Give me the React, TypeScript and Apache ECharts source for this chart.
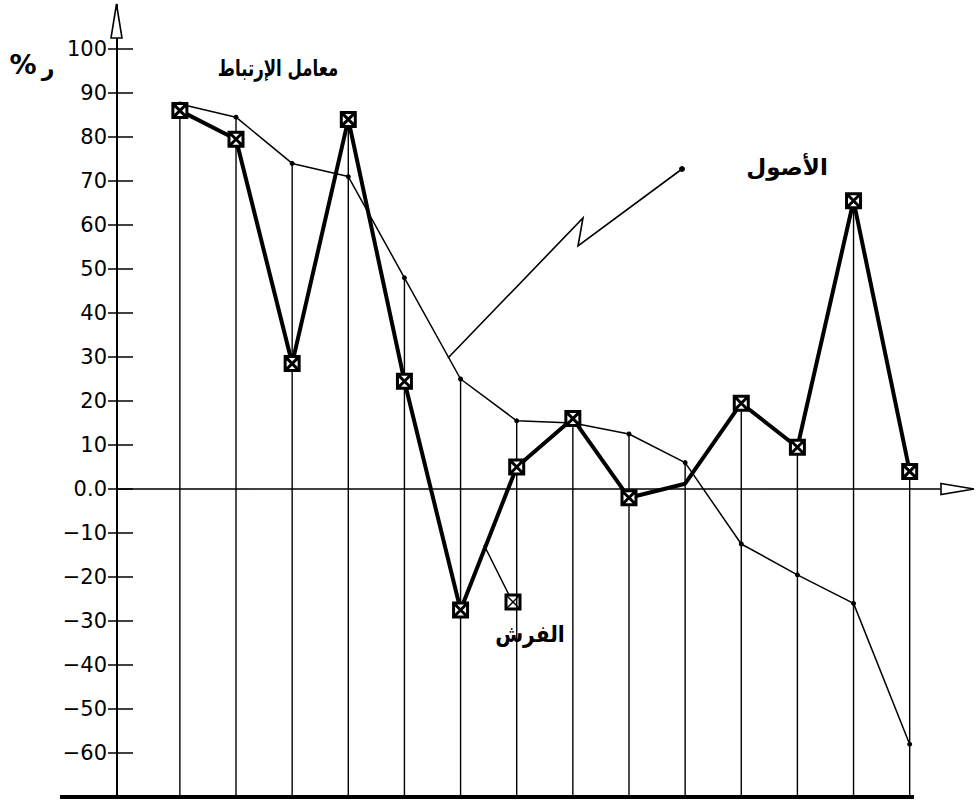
import React, { useEffect, useRef } from 'react';
import * as echarts from 'echarts';

// Category positions (14 observations, no labels shown on the x axis)
const categoryIndex = [1, 2, 3, 4, 5, 6, 7, 8, 9, 10, 11, 12, 13, 14];
// الأصول (assets) – thin line with dots
const assets = [87.5, 84.5, 74, 71, 48, 25, 15.5, 15, 12.5, 6, -12.5, -19.5, -26, -58];
// الفرش (furnishings) – thick line with boxed-cross markers
const furnishings = [86, 79.5, 28.5, 84, 24.5, -27.5, 5, 16, -2, 1.2, 19.5, 9.5, 65.5, 4];
const furnishingsMarked = [true, true, true, true, true, true, true, true, true, false, true, true, true, true];
// Y axis ticks and their labels
const yTicks = [-60, -50, -40, -30, -20, -10, 0, 10, 20, 30, 40, 50, 60, 70, 80, 90, 100];
const yTickLabels = ['−60', '−50', '−40', '−30', '−20', '−10', '0.0', '10', '20', '30', '40', '50', '60', '70', '80', '90', '100'];
const titleText = 'معامل الإرتباط';
const unitPercent = '%';
const unitLetter = 'ر';
const assetsLabel = 'الأصول';
const furnishingsLabel = 'الفرش';

const Y_MIN = -70;
const Y_MAX = 110;

export default function App() {
  const ref = useRef<HTMLDivElement>(null);

  useEffect(() => {
    const chart = echarts.init(ref.current as HTMLDivElement, null, { renderer: 'svg' });
    const markerPath = 'path://M0 0H10V10H0Z M0 0L10 10 M10 0L0 10';
    const dropData = categoryIndex.map((c, i) => [c, Math.max(assets[i], furnishings[i])]);
    const labelFont = { fontFamily: 'DejaVu Sans', color: '#000' };
    const arabicText = (text: string, x: number, y: number, size: number, sx: number) => ({
      type: 'text',
      z: 10,
      x,
      y,
      scaleX: sx,
      style: {
        text,
        fontFamily: 'DejaVu Sans',
        fontWeight: 'bold',
        fontSize: size,
        fill: '#000',
        textAlign: 'center',
        textVerticalAlign: 'middle',
      },
    });

    chart.setOption({
      animation: false,
      backgroundColor: '#fff',
      grid: { left: 117, right: 38, top: 5, bottom: 5, containLabel: false },
      xAxis: {
        type: 'value',
        min: -0.12,
        max: 14.54,
        axisLine: { show: true, onZero: true, lineStyle: { color: '#000', width: 1.5 } },
        axisTick: { show: false },
        axisLabel: { show: false },
        splitLine: { show: false },
      },
      yAxis: [
        {
          type: 'value',
          min: Y_MIN,
          max: Y_MAX,
          interval: 10,
          position: 'left',
          axisLine: { show: true, onZero: false, lineStyle: { color: '#000', width: 2 } },
          axisTick: { show: true, inside: true, length: 16, customValues: yTicks, lineStyle: { color: '#000', width: 1.5 } },
          axisLabel: {
            show: true,
            customValues: yTicks,
            margin: 10,
            fontSize: 21,
            ...labelFont,
            formatter: (v: number) => {
              const idx = yTicks.indexOf(v);
              return idx >= 0 ? yTickLabels[idx] : '';
            },
          },
          splitLine: { show: false },
        },
        {
          type: 'value',
          min: Y_MIN,
          max: Y_MAX,
          interval: 10,
          position: 'left',
          offset: 0,
          axisLine: { show: false, onZero: false },
          axisTick: { show: true, inside: false, length: 9, customValues: yTicks, lineStyle: { color: '#000', width: 1.5 } },
          axisLabel: { show: false },
          splitLine: { show: false },
        },
      ],
      series: [
        {
          type: 'custom',
          name: 'drop',
          silent: true,
          z: 1,
          data: dropData,
          renderItem: (params: any, api: any) => {
            const x = api.value(0);
            const top = api.value(1);
            const p1 = api.coord([x, Y_MIN]);
            const p2 = api.coord([x, top]);
            return {
              type: 'line',
              shape: { x1: p1[0], y1: p1[1], x2: p2[0], y2: p2[1] },
              style: { stroke: '#000', lineWidth: 1.4 },
            };
          },
        },
        {
          type: 'line',
          name: assetsLabel,
          z: 2,
          data: categoryIndex.map((c, i) => [c, assets[i]]),
          symbol: 'circle',
          symbolSize: 5,
          itemStyle: { color: '#000' },
          lineStyle: { color: '#000', width: 1.5 },
        },
        {
          type: 'line',
          name: furnishingsLabel,
          z: 3,
          data: categoryIndex.map((c, i) => ({
            value: [c, furnishings[i]],
            symbol: furnishingsMarked[i] ? markerPath : 'none',
          })),
          symbolSize: 14,
          itemStyle: { color: '#fff', borderColor: '#000', borderWidth: 3 },
          lineStyle: { color: '#000', width: 4 },
        },
      ],
      graphic: [
        // y axis hollow arrow
        {
          type: 'polygon',
          z: 10,
          shape: { points: [[111, 38], [116.5, 4], [122, 38]] },
          style: { fill: '#fff', stroke: '#000', lineWidth: 1.6 },
        },
        // x axis hollow arrow
        {
          type: 'polygon',
          z: 10,
          shape: { points: [[941, 483.5], [974, 489], [941, 494.5]] },
          style: { fill: '#fff', stroke: '#000', lineWidth: 1.6 },
        },
        // thick baseline
        {
          type: 'line',
          z: 10,
          shape: { x1: 60, y1: 797, x2: 914, y2: 797 },
          style: { stroke: '#000', lineWidth: 4 },
        },
        // title
        arabicText(titleText, 278, 68, 23, 0.72),
        // unit label  % ر
        {
          type: 'text',
          z: 10,
          x: 23,
          y: 64,
          style: {
            text: unitPercent,
            fontFamily: 'DejaVu Sans',
            fontWeight: 'bold',
            fontSize: 27,
            fill: '#000',
            textAlign: 'center',
            textVerticalAlign: 'middle',
          },
        },
        arabicText(unitLetter, 48, 68, 22, 1),
        // assets annotation
        arabicText(assetsLabel, 787, 167, 23, 1),
        {
          type: 'polyline',
          z: 10,
          shape: { points: [[448, 358], [583, 218], [578, 246], [682, 169]] },
          style: { stroke: '#000', lineWidth: 1.6, fill: 'none' },
        },
        {
          type: 'circle',
          z: 10,
          shape: { cx: 682, cy: 169, r: 3 },
          style: { fill: '#000' },
        },
        // furnishings annotation
        {
          type: 'line',
          z: 10,
          shape: { x1: 484, y1: 545, x2: 509, y2: 595 },
          style: { stroke: '#000', lineWidth: 1.6 },
        },
        {
          type: 'group',
          z: 10,
          x: 513,
          y: 602,
          children: [
            {
              type: 'rect',
              shape: { x: -7, y: -7, width: 14, height: 14 },
              style: { fill: '#fff', stroke: '#000', lineWidth: 3 },
            },
            {
              type: 'line',
              shape: { x1: -7, y1: -7, x2: 7, y2: 7 },
              style: { stroke: '#000', lineWidth: 1.5 },
            },
            {
              type: 'line',
              shape: { x1: 7, y1: -7, x2: -7, y2: 7 },
              style: { stroke: '#000', lineWidth: 1.5 },
            },
          ],
        },
        arabicText(furnishingsLabel, 530, 634, 23, 0.88),
      ],
    });

    return () => {
      chart.dispose();
    };
  }, []);

  return (
    <div
      ref={ref}
      style={{ position: 'fixed', left: 0, top: 0, width: 978, height: 802, background: '#fff' }}
    />
  );
}
